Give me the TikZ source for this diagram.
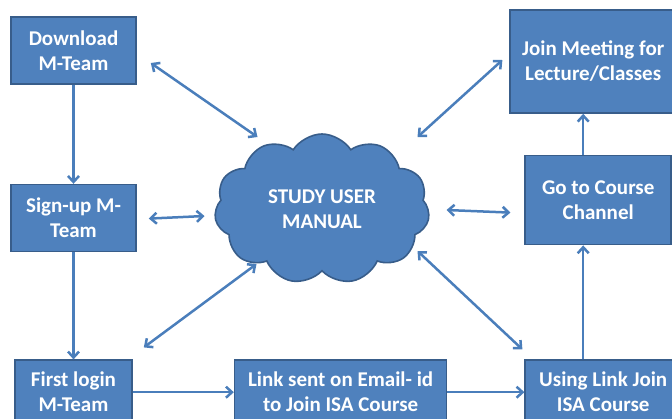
\documentclass[tikz,border=0pt]{standalone}
\usepackage{fontspec}
\setmainfont{Carlito}
\usetikzlibrary{positioning, shapes.symbols, arrows.meta}
\definecolor{boxblue}{HTML}{4F81BD}
\definecolor{boxedge}{HTML}{385D8A}
\definecolor{arrowblue}{HTML}{4A7EBB}
\tikzset{%
  stepbox/.style={draw=boxedge, line width=1.6pt, fill=boxblue, text=white,
    font=\bfseries\fontsize{21}{25}\selectfont, align=center, inner sep=0pt},
  flow/.style={draw=arrowblue, line width=2.5pt, -{Straight Barb[length=6pt,width=11pt]}},
  both/.style={flow, {Straight Barb[length=6pt,width=11pt]}-{Straight Barb[length=6pt,width=11pt]}}
}
\begin{document}
\begin{tikzpicture}[x=1pt, y=-1pt]
\useasboundingbox (0,0) rectangle (672,418);

\node[cloud, cloud puffs=11, cloud puff arc=115, aspect=1.57, draw=boxedge, line width=1.6pt,
  fill=boxblue, text=white, font=\bfseries\fontsize{21}{25}\selectfont, align=center,
  minimum width=215pt, minimum height=150pt, inner sep=0pt] (cloud) at (322,209) {STUDY USER\\MANUAL};

\node[stepbox, minimum width=125pt, minimum height=67pt] (dl) at (73.5,50.5) {Download\\M-Team};
\node[stepbox, minimum width=125pt, minimum height=67pt, below=99pt of dl] (su) {Sign-up M-\\Team};
\node[stepbox, minimum width=117pt, minimum height=64pt, below=107pt of su] (fl) {First login\\M-Team};
\node[stepbox, minimum width=212pt, minimum height=64pt, right=101pt of fl] (ls) {Link sent on Email- id\\to Join ISA Course};
\node[stepbox, minimum width=156pt, minimum height=64pt, right=77pt of ls] (ul) {Using Link Join\\ISA Course};
\node[stepbox, minimum width=146pt, minimum height=89pt, above=114pt of ul.north west, anchor=south west] (gc) {Go to Course\\Channel};
\node[stepbox, minimum width=166pt, minimum height=103pt, above=41pt of gc, xshift=-5pt] (jm) {Join Meeting for\\Lecture/Classes};

% main path
\draw[flow] (dl.south) -- (su.north);
\draw[flow] (su.south) -- (su.south |- fl.north);
\draw[flow] (fl.east) -- (ls.west);
\draw[flow] (ls.east) -- (ls.east -| ul.west);
\draw[flow] ([xshift=-20pt]ul.north) -- ([xshift=-20pt]ul.north |- gc.south);
\draw[flow] ([xshift=-15pt]gc.north) -- ([xshift=-15pt]gc.north |- jm.south);

% to and from the manual
\draw[both] ([shift={(14,12.5)}]dl.east) -- ([shift={(-64.5,-72)}]cloud.center);
\draw[both] ([shift={(-7,-1.5)}]jm.west) -- ([shift={(95.5,-72)}]cloud.center);
\draw[both] ([shift={(12,0.5)}]su.east) -- ([shift={(-117.5,7)}]cloud.center);
\draw[both] ([shift={(-14,12.5)}]gc.west) -- ([shift={(124.5,1)}]cloud.center);
\draw[both] ([shift={(11,-12)}]fl.north east) -- ([shift={(-65.5,55)}]cloud.center);
\draw[both] ([shift={(-2,-10)}]ul.north west) -- ([shift={(95.5,42)}]cloud.center);

\end{tikzpicture}
\end{document}
